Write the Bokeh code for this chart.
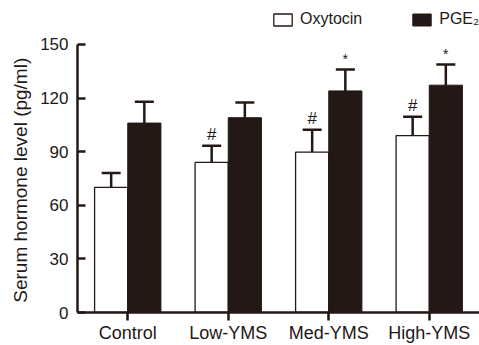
from bokeh.plotting import figure
from bokeh.models import (ColumnDataSource, FactorRange, Range1d, FixedTicker,
                          Legend, LegendItem, Whisker)
from bokeh.transform import dodge
from bokeh.core.properties import value
from bokeh.embed import file_html
from bokeh.resources import INLINE

groups = ["Control", "Low-YMS", "Med-YMS", "High-YMS"]
oxytocin = [70, 84, 89.7, 99]
oxytocin_err = [8, 9.3, 12.5, 10.6]
pge2 = [106, 109, 124, 127.2]
pge2_err = [12, 8.5, 12, 11.6]
oxytocin_marks = ["", "#", "#", "#"]
pge2_marks = ["", "", "*", "*"]
y_ticks = [0, 30, 60, 90, 120, 150]

INK = "#231815"
FONT = "Liberation Sans"

src = ColumnDataSource(dict(
    g=groups,
    oxy=oxytocin, oxy_top=[v + e for v, e in zip(oxytocin, oxytocin_err)],
    pge=pge2, pge_top=[v + e for v, e in zip(pge2, pge2_err)],
    oxy_mark=oxytocin_marks, pge_mark=pge2_marks,
))

p = figure(x_range=FactorRange(factors=groups, range_padding=0),
           y_range=Range1d(0, 174.6),
           frame_width=402, frame_height=312,
           output_backend="svg", toolbar_location=None,
           min_border_left=77, min_border_right=0, min_border_top=0,
           min_border_bottom=33)
p.outline_line_color = None
p.xgrid.grid_line_color = None
p.ygrid.grid_line_color = None
p.background_fill_color = None
p.border_fill_color = None

w = 0.33
r_oxy = p.vbar(x=dodge("g", -0.165, range=p.x_range), top="oxy", width=w,
               source=src, fill_color="white", line_color=INK, line_width=1.3)
r_pge = p.vbar(x=dodge("g", 0.165, range=p.x_range), top="pge", width=w,
               source=src, fill_color=INK, line_color=INK, line_width=1)

for col_base, col_top, off in (("oxy", "oxy_top", -0.165), ("pge", "pge_top", 0.165)):
    wk = Whisker(source=src, base=dodge("g", off, range=p.x_range),
                 lower=col_base, upper=col_top, dimension="height",
                 line_color=INK, line_width=2.5, level="underlay")
    wk.upper_head.size = 19
    wk.upper_head.line_color = INK
    wk.upper_head.line_width = 2.5
    wk.lower_head = None
    p.add_layout(wk)

p.text(x=dodge("g", -0.165, range=p.x_range), y="oxy_top", text="oxy_mark",
       source=src, text_align="center", text_baseline="bottom", y_offset=-2,
       text_font=value(FONT), text_font_size="17px", text_color=INK)
p.text(x=dodge("g", 0.165, range=p.x_range), y="pge_top", text="pge_mark",
       source=src, text_align="center", text_baseline="bottom", y_offset=-2,
       text_font=value(FONT), text_font_size="14px", text_color=INK)

# axes
p.yaxis.ticker = FixedTicker(ticks=y_ticks)
p.yaxis.bounds = (0, 150)
p.yaxis.major_tick_in = 8
p.yaxis.major_tick_out = 0
p.yaxis.minor_tick_line_color = None
p.yaxis.axis_line_width = 2.5
p.yaxis.major_tick_line_width = 2.5
p.yaxis.axis_line_color = INK
p.yaxis.major_tick_line_color = INK
p.yaxis.major_label_standoff = 9
p.yaxis.major_label_text_font = FONT
p.yaxis.major_label_text_font_size = "17px"
p.yaxis.major_label_text_color = INK
# non-breaking spaces centre the label on the 0-150 axis span
p.yaxis.axis_label = "Serum hormone level (pg/ml)" + "\u00a0" * 9
p.yaxis.axis_label_text_font = FONT
p.yaxis.axis_label_text_font_style = "normal"
p.yaxis.axis_label_text_font_size = "19px"
p.yaxis.axis_label_text_color = INK
p.yaxis.axis_label_standoff = 6

p.xaxis.major_tick_in = 0
p.xaxis.major_tick_out = 8
p.xaxis.axis_line_width = 2.5
p.xaxis.major_tick_line_width = 2.5
p.xaxis.axis_line_color = INK
p.xaxis.major_tick_line_color = INK
p.xaxis.major_label_standoff = 2
p.xaxis.major_label_text_font = FONT
p.xaxis.major_label_text_font_size = "18px"
p.xaxis.major_label_text_color = INK

legend = Legend(items=[LegendItem(label="Oxytocin", renderers=[r_oxy]),
                       LegendItem(label="PGE\u2082", renderers=[r_pge])],
                location=(194, 284), orientation="horizontal",
                glyph_width=23, glyph_height=15, label_standoff=6, spacing=48,
                padding=0, margin=0, border_line_color=None,
                background_fill_alpha=0,
                label_text_font=FONT, label_text_font_size="16px",
                label_text_color=INK, label_height=16)
p.add_layout(legend, "center")

open("out.html", "w").write(file_html(p, INLINE))
